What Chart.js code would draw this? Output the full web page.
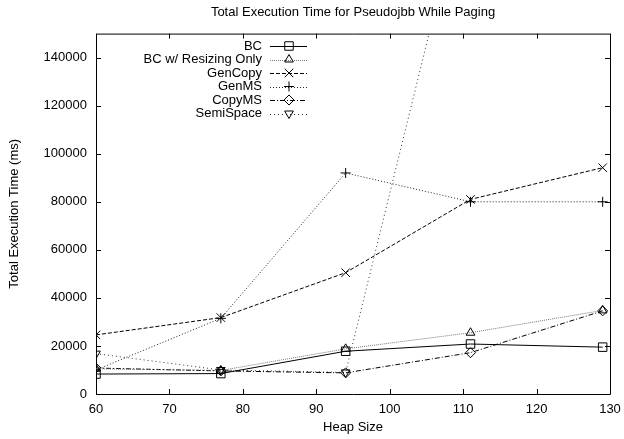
<!DOCTYPE html>
<html>
<head>
    <title>Total Execution Time for Pseudojbb While Paging</title>
    <script src="https://cdn.jsdelivr.net/npm/chart.js"></script>
    <style>
        body { margin: 0; padding: 0; background: white; }
        #wrap { width: 624px; height: 439px; }
    </style>
</head>
<body>
    <div id="wrap"><canvas id="chart" width="624" height="439"></canvas></div>

    <script>
        // heap sizes (x) and total execution time in ms for each collector
        const heapSizes = [60, 77, 94, 111, 129];
        const bc        = [8300, 8500, 17800, 20800, 19500];
        const bcResize  = [10500, 9800, 18800, 25500, 34800];
        const genCopy   = [24600, 31800, 50500, 81000, 94200];
        const genMS     = [10000, 31500, 92000, 80000, 80000];
        const copyMS    = [10800, 9600, 8800, 17200, 34600];
        const semiSpace = [16800, 10000, 9000, 220000, 260000];

        const seriesNames = ['BC', 'BC w/ Resizing Only', 'GenCopy', 'GenMS', 'CopyMS', 'SemiSpace'];
        const xTicks = [60, 70, 80, 90, 100, 110, 120, 130];
        const yTicks = [0, 20000, 40000, 60000, 80000, 100000, 120000, 140000];

        const FONT = "'Liberation Sans', Arial, Helvetica, sans-serif";

        function pts(vals) {
            return vals.map((v, i) => ({ x: heapSizes[i], y: v }));
        }

        const styles = [
            { color: '#000', dash: [],           point: 'rect',     r: 6,   rot: 0 },
            { color: '#777', dash: [1, 1],       point: 'triangle', r: 5,   rot: 0 },
            { color: '#000', dash: [4, 2],       point: 'crossRot', r: 6,   rot: 0 },
            { color: '#222', dash: [1, 2],       point: 'cross',    r: 5,   rot: 0 },
            { color: '#000', dash: [5, 2, 1, 2], point: 'rectRot',  r: 5,   rot: 0 },
            { color: '#333', dash: [1, 3],       point: 'triangle', r: 5,   rot: 180 }
        ];
        const values = [bc, bcResize, genCopy, genMS, copyMS, semiSpace];

        const datasets = values.map((vals, i) => ({
            label: seriesNames[i],
            data: pts(vals),
            borderColor: styles[i].color,
            borderWidth: 1,
            borderDash: styles[i].dash,
            pointStyle: styles[i].point,
            pointRadius: styles[i].r,
            pointRotation: styles[i].rot,
            pointBorderColor: '#000',
            pointBorderWidth: 1,
            pointBackgroundColor: 'rgba(0,0,0,0)',
            fill: false,
            tension: 0
        }));

        // box round the plot and ticks pointing inward on all four sides
        const frame = {
            id: 'frame',
            beforeDatasetsDraw(chart) {
                const { ctx, chartArea: a, scales } = chart;
                ctx.save();
                ctx.strokeStyle = '#000';
                ctx.lineWidth = 1;
                ctx.beginPath();
                ctx.rect(a.left + 0.5, a.top + 0.5, a.right - a.left, a.bottom - a.top);
                xTicks.forEach(v => {
                    const x = Math.round(scales.x.getPixelForValue(v)) + 0.5;
                    ctx.moveTo(x, a.bottom); ctx.lineTo(x, a.bottom - 5);
                    ctx.moveTo(x, a.top); ctx.lineTo(x, a.top + 5);
                });
                yTicks.forEach(v => {
                    const y = Math.round(scales.y.getPixelForValue(v)) + 0.5;
                    ctx.moveTo(a.left, y); ctx.lineTo(a.left + 5, y);
                    ctx.moveTo(a.right, y); ctx.lineTo(a.right - 5, y);
                });
                ctx.stroke();
                ctx.restore();
            }
        };

        // gnuplot style key: text right aligned, line sample on the right
        const key = {
            id: 'key',
            afterDraw(chart) {
                const ctx = chart.ctx;
                ctx.save();
                ctx.font = '13px ' + FONT;
                ctx.textAlign = 'right';
                ctx.textBaseline = 'middle';
                chart.data.datasets.forEach((ds, i) => {
                    const y = 46 + i * 13.5;
                    ctx.fillStyle = '#000';
                    ctx.fillText(ds.label, 262, y);
                    ctx.strokeStyle = ds.borderColor;
                    ctx.lineWidth = 1;
                    ctx.setLineDash(ds.borderDash);
                    ctx.beginPath();
                    ctx.moveTo(270, Math.round(y) + 0.5);
                    ctx.lineTo(307, Math.round(y) + 0.5);
                    ctx.stroke();
                    ctx.setLineDash([]);
                    ctx.strokeStyle = '#000';
                    ctx.fillStyle = 'rgba(0,0,0,0)';
                    Chart.helpers.drawPoint(ctx, {
                        pointStyle: ds.pointStyle,
                        radius: ds.pointRadius,
                        rotation: ds.pointRotation,
                        borderWidth: 1
                    }, 289, y);
                });
                ctx.restore();
            }
        };

        new Chart(document.getElementById('chart'), {
            type: 'line',
            data: { datasets: datasets },
            plugins: [frame, key],
            options: {
                responsive: false,
                animation: false,
                layout: { padding: { top: 0, right: 14, bottom: 0, left: 0 } },
                plugins: {
                    legend: { display: false },
                    tooltip: { enabled: false },
                    title: {
                        display: true,
                        text: 'Total Execution Time for Pseudojbb While Paging',
                        color: '#000',
                        fullSize: false,
                        font: { family: FONT, size: 13, weight: 'normal' },
                        padding: { top: 5, bottom: 13 }
                    }
                },
                scales: {
                    x: {
                        type: 'linear',
                        min: 60,
                        max: 130,
                        grid: { display: false, drawTicks: false },
                        border: { display: false },
                        afterFit(scale) {
                            scale.height = 45;
                            scale.paddingLeft = 0;
                            scale.paddingRight = 0;
                        },
                        afterBuildTicks(scale) { scale.ticks = xTicks.map(v => ({ value: v })); },
                        ticks: {
                            padding: 8,
                            color: '#000',
                            maxRotation: 0,
                            font: { family: FONT, size: 13 },
                            callback: v => String(v)
                        },
                        title: {
                            display: true,
                            text: 'Heap Size',
                            color: '#000',
                            font: { family: FONT, size: 13 },
                            padding: { top: 0, bottom: 4 }
                        }
                    },
                    y: {
                        min: 0,
                        max: 150000,
                        grid: { display: false, drawTicks: false },
                        border: { display: false },
                        afterFit(scale) {
                            scale.width = 96;
                            scale.paddingTop = 0;
                            scale.paddingBottom = 0;
                        },
                        afterBuildTicks(scale) { scale.ticks = yTicks.map(v => ({ value: v })); },
                        ticks: {
                            padding: 9,
                            color: '#000',
                            font: { family: FONT, size: 13 },
                            callback: v => String(v)
                        },
                        title: {
                            display: true,
                            text: 'Total Execution Time (ms)',
                            color: '#000',
                            font: { family: FONT, size: 13 },
                            padding: { top: 7, bottom: 7 }
                        }
                    }
                }
            }
        });
    </script>
</body>
</html>
